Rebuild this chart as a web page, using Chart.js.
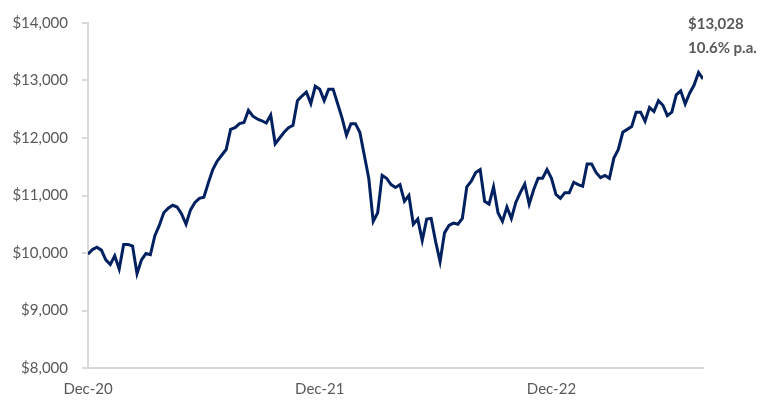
<!DOCTYPE html>
<html>
<head>
<meta charset="utf-8">
<script src="https://cdn.jsdelivr.net/npm/chart.js@4"></script>
<style>
  html, body { margin: 0; padding: 0; background: #fff; }
  #wrap { width: 770px; height: 403px; }
</style>
</head>
<body>
<div id="wrap"><canvas id="growthChart"></canvas></div>
<script>
// weekly value of $10,000 invested, Dec-20 onward
const weeklyValues = [
  9980, 10060, 10100, 10050, 9880, 9800, 9950, 9720, 10150, 10150,
  10120, 9640, 9880, 9990, 9970, 10300, 10480, 10700, 10780, 10830,
  10800, 10680, 10500, 10750, 10880, 10950, 10970, 11220, 11450, 11600,
  11700, 11800, 12150, 12180, 12250, 12270, 12480, 12380, 12330, 12300,
  12260, 12400, 11900, 12000, 12100, 12180, 12220, 12650, 12730, 12800,
  12600, 12900, 12850, 12650, 12850, 12850, 12600, 12350, 12050, 12250,
  12250, 12100, 11700, 11300, 10550, 10700, 11350, 11300,
  11190, 11140, 11190, 10900, 11000, 10500, 10590, 10220, 10590, 10600,
  10200, 9850, 10350, 10480, 10520, 10500, 10600, 11150, 11250, 11400,
  11450, 10900, 10850, 11150, 10700, 10550, 10800, 10600, 10880, 11050,
  11200, 10850, 11100, 11300, 11300, 11450, 11300, 11020, 10950, 11050,
  11050, 11230, 11190, 11160, 11550, 11550, 11400, 11310, 11350, 11300,
  11650, 11800, 12100, 12150, 12200, 12450, 12450, 12290, 12530, 12460,
  12650, 12570, 12390, 12450, 12750, 12820, 12590, 12780, 12920, 13140,
  13028
];

const tickWeeks = [0, 52, 104];
const tickLabels = ["Dec-20", "Dec-21", "Dec-22"];
const yTicks = [8000, 9000, 10000, 11000, 12000, 13000, 14000];

const endLabel = "$13,028";
const endReturn = "10.6% p.a.";

const grey = "#595959";
const axisGrey = "#d9d9d9";
const navy = "#002060";

// end-of-line annotation
const endNote = {
  id: "endNote",
  afterDraw(chart) {
    const ctx = chart.ctx;
    const xs = chart.scales.x;
    const ys = chart.scales.y;
    const last = weeklyValues.length - 1;
    const px = xs.getPixelForValue(last) - 15;
    const py = ys.getPixelForValue(weeklyValues[last]);
    ctx.save();
    ctx.fillStyle = grey;
    ctx.font = "bold 15px Lato";
    ctx.textAlign = "left";
    ctx.textBaseline = "middle";
    ctx.fillText(endLabel, px, py - 55);
    ctx.fillText(endReturn, px, py - 31);
    ctx.restore();
  }
};

new Chart(document.getElementById("growthChart"), {
  type: "line",
  data: {
    datasets: [{
      data: weeklyValues.map((v, i) => ({ x: i, y: v })),
      borderColor: navy,
      borderWidth: 3,
      pointRadius: 0,
      tension: 0,
      fill: false
    }]
  },
  options: {
    responsive: true,
    maintainAspectRatio: false,
    animation: false,
    layout: { padding: { top: 18, right: 67, bottom: 0, left: 0 } },
    plugins: {
      legend: { display: false },
      tooltip: { enabled: false }
    },
    scales: {
      x: {
        type: "linear",
        min: 0,
        max: weeklyValues.length - 1,
        afterBuildTicks: (axis) => {
          axis.ticks = tickWeeks.map(v => ({ value: v }));
        },
        afterFit: (axis) => { axis.height = 35; },
        ticks: {
          autoSkip: false,
          maxRotation: 0,
          padding: 12,
          color: grey,
          font: { family: "Lato", size: 15 },
          callback: (v) => tickLabels[tickWeeks.indexOf(v)]
        },
        grid: { display: false, drawTicks: false },
        border: { display: true, color: axisGrey, width: 2 }
      },
      y: {
        min: 8000,
        max: 14000,
        afterBuildTicks: (axis) => {
          axis.ticks = yTicks.map(v => ({ value: v }));
        },
        afterFit: (axis) => { axis.width = 88; },
        ticks: {
          padding: 14,
          color: grey,
          font: { family: "Lato", size: 15 },
          callback: (v) => "$" + v.toLocaleString("en-US")
        },
        grid: {
          drawOnChartArea: false,
          tickLength: 6,
          color: axisGrey,
          lineWidth: 2
        },
        border: { display: true, color: axisGrey, width: 2 }
      }
    }
  },
  plugins: [endNote]
});
</script>
</body>
</html>
